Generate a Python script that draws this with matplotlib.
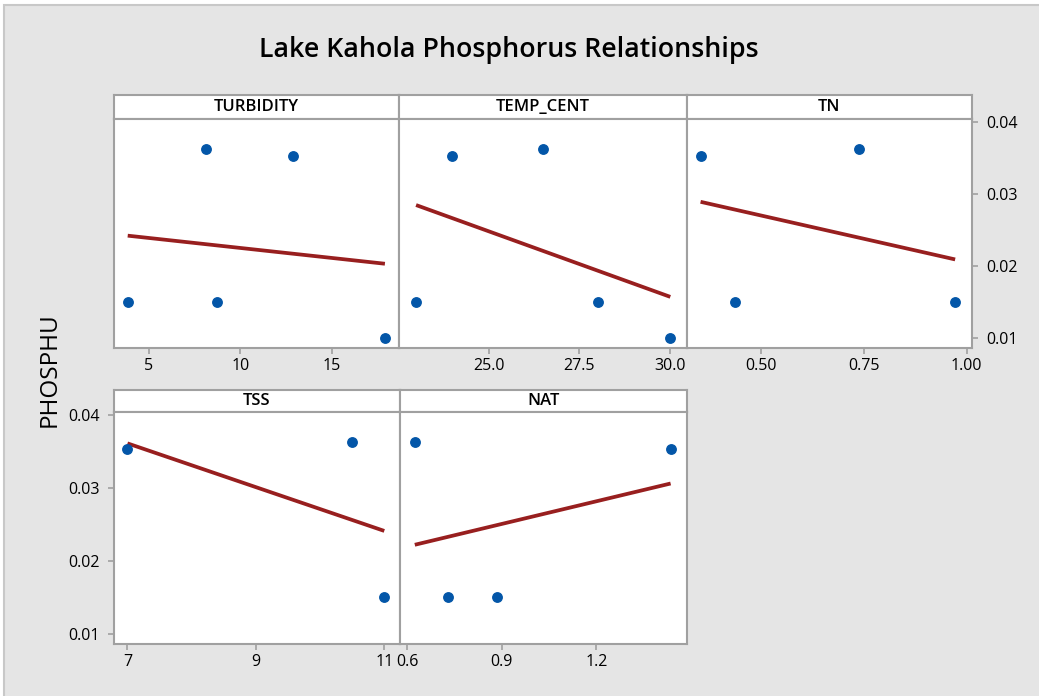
import matplotlib
matplotlib.use("Agg")
import matplotlib.pyplot as plt
from matplotlib.patches import Rectangle
from matplotlib.ticker import FormatStrFormatter

plt.rcParams['font.family'] = ['Open Sans', 'DejaVu Sans']

# datos (PHOSPHU vs cada variable)
turbidity = [3.85, 8.13, 8.74, 12.91, 17.91]
turbidity_p = [0.015, 0.0363, 0.015, 0.0353, 0.010]
temp_cent = [23.0, 24.0, 26.5, 28.0, 30.0]
temp_cent_p = [0.015, 0.0353, 0.0363, 0.015, 0.010]
tn = [0.353, 0.437, 0.738, 0.972]
tn_p = [0.0353, 0.015, 0.0363, 0.015]
tss = [7.0, 10.5, 11.0]
tss_p = [0.0353, 0.0363, 0.015]
nat = [0.624, 0.728, 0.884, 1.436]
nat_p = [0.0363, 0.015, 0.015, 0.0353]

# recta de regresion: valor ajustado en el x minimo y en el x maximo
fit_turbidity = [0.0242, 0.0203]
fit_temp_cent = [0.02845, 0.0157]
fit_tn = [0.0289, 0.0209]
fit_tss = [0.0361, 0.0241]
fit_nat = [0.0222, 0.0306]

y_ticks = [0.01, 0.02, 0.03, 0.04]

W, H = 1039, 696
fig = plt.figure(figsize=(W / 100, H / 100), dpi=100, facecolor='white')
# fondo gris con borde solo arriba/izquierda (captura recortada)
fig.patches.append(Rectangle((4 / W, -0.1), 1.2, 1.1 - 5 / H, transform=fig.transFigure,
                             facecolor='#e5e5e5', edgecolor='#c8c8c8', lw=1.5, zorder=-10))

gris = '#a0a0a0'
azul = '#0356a8'
rojo = '#981f1f'

def rect(x0, y0, x1, y1):
    return [x0 / W, 1 - y1 / H, (x1 - x0) / W, (y1 - y0) / H]

def panel(x0, x1, y_strip, y0, y1, nombre, xs, ys, fit, xlim, xticks, fmt, yside):
    # franja con el nombre de la variable
    st = fig.add_axes(rect(x0, y_strip, x1, y0))
    st.set_facecolor('white')
    st.set_xticks([])
    st.set_yticks([])
    for s in st.spines.values():
        s.set_color(gris)
        s.set_linewidth(1.5)
    st.text(0.5, 0.48, nombre, ha='center', va='center', fontsize=12,
            fontweight='semibold', transform=st.transAxes)

    ax = fig.add_axes(rect(x0, y0, x1, y1))
    ax.set_facecolor('white')
    ax.plot([min(xs), max(xs)], fit, color=rojo, lw=2.7, solid_capstyle='butt', zorder=2)
    ax.plot(xs, ys, 'o', color=azul, ms=6.8, zorder=3)
    ax.set_xlim(xlim)
    ax.set_ylim(0.0086, 0.0404)
    ax.set_xticks(xticks)
    ax.xaxis.set_major_formatter(FormatStrFormatter(fmt))
    ax.set_yticks(y_ticks)
    ax.yaxis.set_major_formatter(FormatStrFormatter('%.2f'))
    for s in ax.spines.values():
        s.set_color(gris)
        s.set_linewidth(1.5)
    ax.tick_params(length=4, width=1.2, color=gris, labelsize=11.5, pad=3)
    if yside == 'right':
        ax.yaxis.tick_right()
        ax.tick_params(axis='y', pad=6)
    elif yside == 'left':
        ax.yaxis.tick_left()
        ax.tick_params(axis='y', pad=6)
    else:
        ax.tick_params(axis='y', left=False, labelleft=False)
    return ax

panel(114, 399, 95, 119, 348, 'TURBIDITY', turbidity, turbidity_p, fit_turbidity,
      (3.1, 18.68), [5, 10, 15], '%d', None)
panel(399, 687, 95, 119, 348, 'TEMP_CENT', temp_cent, temp_cent_p, fit_temp_cent,
      (22.53, 30.46), [25.0, 27.5, 30.0], '%.1f', None)
panel(687, 972, 95, 119, 348, 'TN', tn, tn_p, fit_tn,
      (0.32, 1.013), [0.50, 0.75, 1.00], '%.2f', 'right')
panel(114, 400, 390, 412, 644, 'TSS', tss, tss_p, fit_tss,
      (6.79, 11.245), [7, 9, 11], '%d', 'left')
panel(400, 687, 390, 412, 644, 'NAT', nat, nat_p, fit_nat,
      (0.577, 1.488), [0.6, 0.9, 1.2], '%.1f', None)

fig.text(509 / W, 1 - 50 / H, 'Lake Kahola Phosphorus Relationships', ha='center',
         va='center', fontsize=19.3, fontweight='semibold')
fig.text(50 / W, 1 - 370 / H, 'PHOSPHU', ha='center', va='center', rotation=90,
         fontsize=17.5)

fig.savefig('out.png', dpi=100, facecolor=fig.get_facecolor())
